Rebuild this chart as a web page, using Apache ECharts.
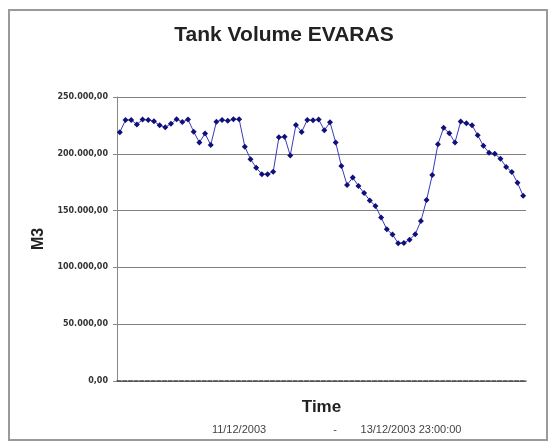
<!DOCTYPE html>
<html>
<head>
<meta charset="utf-8">
<script src="https://cdn.jsdelivr.net/npm/echarts@6/dist/echarts.min.js"></script>
<style>
html,body{margin:0;padding:0;background:#fff;}
#chart{width:550px;height:442px;}
</style>
</head>
<body>
<div id="chart"></div>
<script>
var titleText = 'Tank Volume EVARAS';
var yAxisName = 'M3';
var xAxisName = 'Time';
var rangeLabels = ['11/12/2003', '-', '13/12/2003 23:00:00'];
var yTicks = [0, 50000, 100000, 150000, 200000, 250000];
var startDay = 11, dayCount = 3;

// hourly categories 11/12/2003 00:00 .. 13/12/2003 23:00
var categories = [];
for (var d = 0; d < dayCount; d++) {
  for (var h = 0; h < 24; h++) {
    categories.push((startDay + d) + '/12/2003 ' + (h < 10 ? '0' : '') + h + ':00:00');
  }
}

var volume = [
  219000, 229800, 229800, 225800, 230200, 229800, 228700, 225100, 223400, 226400,
  230500, 228000, 230200, 219500, 210000, 217900, 207700, 228300, 229800, 229000,
  230400, 230400, 206300, 195300, 187800, 182000, 182000, 184200, 214500, 215000,
  198500, 225400, 219200, 229800, 229500, 230200, 220700, 227700, 210000, 189300,
  172500, 179100, 171700, 165500, 158900, 154000, 143900, 133500, 129000, 121200,
  121500, 124400, 129200, 140800, 159300, 181300, 208500, 222900, 218000, 210000,
  228400, 226800, 225100, 216300, 207000, 200900, 200000, 195700, 188400, 184000,
  174500, 163000
];

function euroFmt(v) {
  var s = Math.round(v).toString().replace(/\B(?=(\d{3})+(?!\d))/g, '.');
  return s + ',00';
}

var chart = echarts.init(document.getElementById('chart'));
chart.setOption({
  animation: false,
  backgroundColor: '#fff',
  title: {
    text: titleText,
    left: 279, top: 20, textAlign: 'center',
    textStyle: {fontFamily: 'Liberation Sans, Arial, sans-serif', fontSize: 21, fontWeight: 'bold', color: '#222'}
  },
  grid: {left: 117, top: 97, width: 409, height: 284, containLabel: false},
  xAxis: {
    type: 'category',
    data: categories,
    boundaryGap: true,
    name: xAxisName,
    nameLocation: 'middle',
    nameGap: 18,
    nameTextStyle: {fontFamily: 'Liberation Sans, Arial, sans-serif', fontSize: 17, fontWeight: 'bold', color: '#222'},
    axisLine: {show: true, lineStyle: {color: '#444', width: 1.5, type: [4, 1.68]}},
    axisTick: {show: false},
    axisLabel: {show: false},
    splitLine: {show: false}
  },
  yAxis: {
    type: 'value',
    min: yTicks[0], max: yTicks[yTicks.length - 1], interval: 50000,
    name: yAxisName,
    nameLocation: 'middle',
    nameRotate: 90,
    nameGap: 68,
    nameTextStyle: {fontFamily: 'Liberation Sans, Arial, sans-serif', fontSize: 16, fontWeight: 'bold', color: '#222'},
    axisLine: {show: true, lineStyle: {color: '#888', width: 1}},
    axisTick: {show: true, length: 4, lineStyle: {color: '#888'}},
    axisLabel: {
      margin: 9,
      formatter: euroFmt,
      fontFamily: 'DejaVu Sans, sans-serif', fontSize: 8, fontWeight: 'bold', color: '#333'
    },
    splitLine: {show: true, lineStyle: {color: '#808080', width: 1}}
  },
  series: [{
    type: 'line',
    data: volume,
    showSymbol: true,
    showAllSymbol: true,
    symbol: 'diamond',
    symbolSize: 6,
    itemStyle: {color: '#10107a'},
    lineStyle: {color: '#3a3ac0', width: 1}
  }],
  graphic: [
    {type: 'rect', shape: {x: 9, y: 10, width: 538, height: 430}, style: {fill: 'none', stroke: '#9a9a9a', lineWidth: 2}, silent: true},
    {type: 'text', x: 239, y: 430, style: {text: rangeLabels[0], fill: '#444', font: '11px Liberation Sans, Arial, sans-serif', textAlign: 'center', textVerticalAlign: 'middle'}},
    {type: 'text', x: 335, y: 430, style: {text: rangeLabels[1], fill: '#444', font: '11px Liberation Sans, Arial, sans-serif', textAlign: 'center', textVerticalAlign: 'middle'}},
    {type: 'text', x: 411, y: 430, style: {text: rangeLabels[2], fill: '#444', font: '11px Liberation Sans, Arial, sans-serif', textAlign: 'center', textVerticalAlign: 'middle'}}
  ]
});
</script>
</body>
</html>
